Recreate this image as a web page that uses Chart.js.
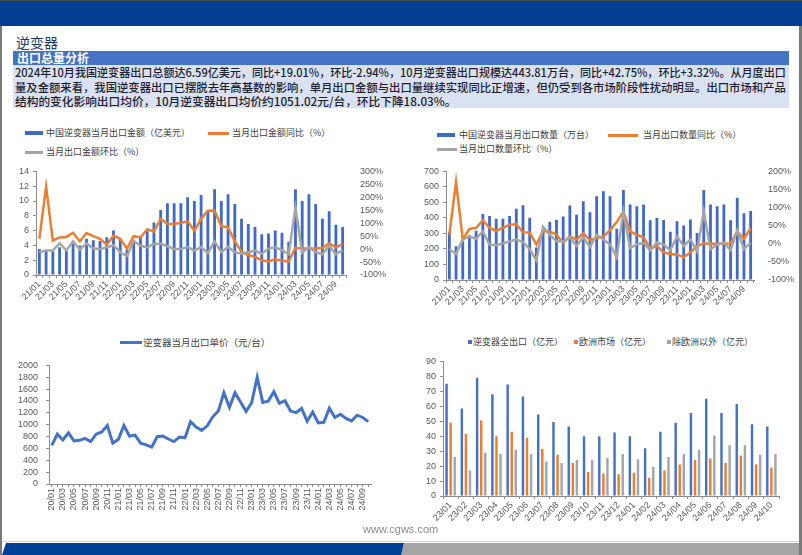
<!DOCTYPE html>
<html>
<head>
<meta charset="utf-8">
<script src="https://cdn.jsdelivr.net/npm/chart.js@4/dist/chart.umd.min.js"></script>
<style>
  body { margin: 0; width: 802px; height: 555px; position: relative; overflow: hidden; background: #fff;
         font-family: 'Noto Sans CJK SC', sans-serif; }
  .abs { position: absolute; }
  canvas { position: absolute; }
  .lg { position: absolute; font-size: 9px; line-height: 12px; color: #404040; white-space: nowrap; }
  .sw { position: absolute; }
  .ln { position: absolute; left: 2px; display: inline-block; white-space: nowrap; font-size: 11.7px;
        line-height: 14px; color: #1e1e2e; font-weight: 500; transform-origin: 0 50%; }
</style>
</head>
<body>
  <!-- frame / header -->
  <div class="abs" style="left:0;top:0;width:802px;height:26px;background:#023f92;border-top:1px solid #4a4a4a;box-sizing:border-box"></div>
  <div class="abs" style="left:0;top:26px;width:2px;height:529px;background:#7a7a7a"></div>
  <div class="abs" style="left:799px;top:26px;width:3px;height:529px;background:#7a7a7a"></div>
  <div class="abs" style="left:16px;top:33px;font-size:14px;line-height:18px;color:#1f3864">逆变器</div>
  <div class="abs" style="left:13px;top:51px;width:776px;height:14px;background:#4472c4;color:#fff;font-size:12px;font-weight:bold;line-height:14px;padding-left:4px;box-sizing:border-box">出口总量分析</div>
  <div class="abs" style="left:13px;top:65px;width:776px;height:43px;background:#d9e1f2">
    <div class="ln" id="ln1" style="top:0px">2024年10月我国逆变器出口总额达6.59亿美元，同比+19.01%，环比-2.94%，10月逆变器出口规模达443.81万台，同比+42.75%，环比+3.32%。从月度出口</div>
    <div class="ln" id="ln2" style="top:14.5px">量及金额来看，我国逆变器出口已摆脱去年高基数的影响，单月出口金额与出口量继续实现同比正增速，但仍受到各市场阶段性扰动明显。出口市场和产品</div>
    <div class="ln" id="ln3" style="top:29px">结构的变化影响出口均价，10月逆变器出口均价约1051.02元/台，环比下降18.03%。</div>
  </div>

  <!-- legend chart 1 -->
  <div class="sw" style="left:25px;top:131px;width:18px;height:4px;background:#4169c8"></div>
  <div class="lg" style="left:46px;top:127px">中国逆变器当月出口金额（亿美元）</div>
  <div class="sw" style="left:208px;top:132px;width:21px;height:3px;background:#ed7d31"></div>
  <div class="lg" style="left:232px;top:127px">当月出口金额同比（%）</div>
  <div class="sw" style="left:25px;top:151px;width:18px;height:3px;background:#a5a5a5"></div>
  <div class="lg" style="left:46px;top:146px">当月出口金额环比（%）</div>

  <!-- legend chart 2 -->
  <div class="sw" style="left:437px;top:133px;width:18px;height:4px;background:#4169c8"></div>
  <div class="lg" style="left:459px;top:129px">中国逆变器当月出口数量（万台）</div>
  <div class="sw" style="left:608px;top:134px;width:30px;height:3px;background:#ed7d31"></div>
  <div class="lg" style="left:643px;top:129px">当月出口数量同比（%）</div>
  <div class="sw" style="left:437px;top:148px;width:20px;height:3px;background:#a5a5a5"></div>
  <div class="lg" style="left:459px;top:143px">当月出口数量环比（%）</div>

  <!-- legend chart 3 -->
  <div class="sw" style="left:120px;top:341px;width:22px;height:3px;background:#4472c4"></div>
  <div class="lg" style="left:143px;top:336px;font-size:9.5px">逆变器当月出口单价（元/台）</div>

  <!-- legend chart 4 -->
  <div class="sw" style="left:468px;top:340px;width:4px;height:4px;background:#4472c4"></div>
  <div class="lg" style="left:473px;top:336px">逆变器全出口（亿元）</div>
  <div class="sw" style="left:574px;top:340px;width:4px;height:4px;background:#ed7d31"></div>
  <div class="lg" style="left:579px;top:336px">欧洲市场（亿元）</div>
  <div class="sw" style="left:667px;top:340px;width:4px;height:4px;background:#a5a5a5"></div>
  <div class="lg" style="left:672px;top:336px">除欧洲以外（亿元）</div>

  <canvas id="c1" width="395" height="145" style="left:0;top:160px"></canvas>
  <canvas id="c2" width="397" height="150" style="left:400px;top:160px"></canvas>
  <canvas id="c3" width="381" height="164" style="left:0;top:352px"></canvas>
  <canvas id="c4" width="389" height="172" style="left:400px;top:352px"></canvas>

  <!-- footer -->
  <div class="abs" style="left:363px;top:523px;font-family:'Liberation Sans';font-size:11px;color:#8a8a8a">www.cgws.com</div>
  <div class="abs" style="left:2px;top:541px;width:797px;height:1px;background:#c9d6ea"></div>
  <div class="abs" style="left:2px;top:543px;width:402px;height:12px;background:#003f98;clip-path:polygon(1% 0,100% 0,99.4% 100%,0 100%)"></div>
  <div class="abs" style="left:401px;top:543px;width:398px;height:12px;background:#a6a6a6;clip-path:polygon(0.8% 0,100% 0,100% 100%,0 100%)"></div>

<script>
  // ── Data ──────────────────────────────────────────────────────
  function monthLabels(y, m, n) {
    const out = [];
    for (let i = 0; i < n; i++) {
      out.push(String(y).padStart(2, '0') + '/' + String(m).padStart(2, '0'));
      m++; if (m > 12) { m = 1; y++; }
    }
    return out;
  }
  const months21 = monthLabels(21, 1, 46);   // 21/01 .. 24/10
  const months20 = monthLabels(20, 1, 58);   // 20/01 .. 24/10
  const months23 = monthLabels(23, 1, 22);   // 23/01 .. 24/10

  // export value, 亿美元
  const amt = [3.5,3.3,3.2,3.75,3.3,4.3,4.0,4.9,4.7,4.6,5.1,6.0,4.9,3.4,4.7,5.3,5.9,7.1,8.8,9.7,9.7,9.7,10.5,10.0,
               10.8,8.7,11.6,10.0,10.9,9.6,7.6,6.9,6.5,5.5,5.6,6.0,5.7,4.5,11.6,10.0,10.9,9.6,7.6,8.6,6.8,6.5];
  const amtYoy = [40,240,33,45,47,63,30,62,50,40,17,52,40,2,50,45,77,67,117,98,97,102,107,70,
                  117,148,148,88,84,30,-10,-23,-30,-43,-48,-39,-45,-48,5,2,2,2,4,23,7,19];
  const amtMom = [-12,-5,-5,22,-5,30,-2,22,2,0,7,15,-12,-27,32,13,7,20,22,11,0,0,8,-6,
                  8,-15,30,-12,9,-12,-18,-12,-6,-18,2,7,-4,-20,160,-14,9,-12,-20,13,-20,-4];

  // export quantity, 万台
  const qty = [310,218,250,288,318,425,412,395,395,412,460,482,402,210,308,375,388,410,480,420,507,437,540,572,
               540,330,580,487,475,487,385,400,387,311,378,352,390,303,580,487,475,487,385,530,430,444];
  const qtyYoy = [25,171,12,41,44,65,44,36,44,53,54,32,31,-2,35,34,25,3,20,12,29,10,16,20,
                  38,60,89,34,25,18,-13,-6,-24,-28,-30,-37,-24,-6,1,0,0,0,1,34,14,43];
  const qtyMom = [-15,-28,12,20,14,34,-2,-4,1,7,12,5,-15,-46,47,25,7,7,18,-6,18,-9,25,12,
                  -2,-37,89,-12,-2,3,-18,3,-2,-18,20,-6,12,-20,89,-15,-2,3,-18,38,-15,3];

  // unit price, 元/台
  const price = [650,840,743,862,726,737,770,715,840,878,986,688,
                 753,986,808,824,688,661,623,797,808,759,715,791,
                 780,1051,960,905,981,1133,1230,1539,1295,1539,1382,1225,
                 1371,1800,1377,1398,1556,1360,1404,1230,1203,1274,1057,1214,
                 1030,1041,1279,1122,1176,1106,1062,1160,1122,1051];

  // export by market, 亿元
  const total     = [75,58.5,79,68,74.5,66.5,54.5,49.5,46.5,40,40,42.5,40,32,43,49,55.5,65,55.5,61.5,48,46.5];
  const europe    = [49,41.5,50.5,40,43,39,31.5,27.5,22,16,15,14.5,15.5,12,17,21,24,25,22,27,21,19];
  const nonEurope = [26,17,29,28,31,28,23,22,24,24,25.5,28,24.5,19.5,26,28,31,40.5,34,34,27.5,28];

  // ── Style ─────────────────────────────────────────────────────
  const BLUE = '#4169c8', BLUE2 = '#4472c4', ORANGE = '#ed7d31', GRAY = '#a5a5a5';
  const AXIS = '#8c8c8c', TICK = '#595959';
  const tickFont = { family: 'Liberation Sans', size: 9 };

  const base = {
    responsive: false, animation: false,
    plugins: { legend: { display: false }, tooltip: { enabled: false } }
  };
  function xAxis(labels, every, rot, h) {
    return {
      grid: { display: true, drawOnChartArea: false, tickLength: 3, color: AXIS },
      border: { color: AXIS },
      ticks: { autoSkip: false, minRotation: rot, maxRotation: rot, padding: 1, color: TICK, font: tickFont,
               callback: (v, i) => (i % every === 0 ? labels[i] : '') },
      afterFit: s => { s.height = h; }
    };
  }
  function yAxis(min, max, step, w, pad) {
    return {
      min, max,
      grid: { display: true, drawOnChartArea: false, tickLength: 3, color: AXIS },
      border: { color: AXIS },
      ticks: { stepSize: step, autoSkip: false, color: TICK, font: tickFont, padding: pad || 4, callback: v => v },
      afterFit: s => { s.width = w; }
    };
  }
  function pctAxis(min, max, w) {
    return {
      position: 'right', min, max,
      grid: { display: false }, border: { display: false },
      ticks: { stepSize: 50, autoSkip: false, color: TICK, font: tickFont, padding: 6, callback: v => v + '%' },
      afterFit: s => { s.width = w; }
    };
  }

  // ── Chart 1: export value ────────────────────────────────────
  new Chart(document.getElementById('c1'), {
    type: 'bar',
    data: {
      labels: months21,
      datasets: [
        { type: 'line', data: amtMom, yAxisID: 'y1', borderColor: GRAY, borderWidth: 2.5, pointRadius: 0, tension: 0, order: 1 },
        { type: 'line', data: amtYoy, yAxisID: 'y1', borderColor: ORANGE, borderWidth: 2.5, pointRadius: 0, tension: 0, order: 2 },
        { type: 'bar', data: amt, yAxisID: 'y', backgroundColor: BLUE, barPercentage: 0.42, categoryPercentage: 1, order: 3 }
      ]
    },
    options: {
      ...base,
      layout: { padding: { top: 8 } },
      scales: { x: xAxis(months21, 2, 45, 30), y: yAxis(0, 14, 2, 36), y1: pctAxis(-100, 300, 49) }
    }
  });

  // ── Chart 2: export quantity ─────────────────────────────────
  new Chart(document.getElementById('c2'), {
    type: 'bar',
    data: {
      labels: months21,
      datasets: [
        { type: 'line', data: qtyMom, yAxisID: 'y1', borderColor: GRAY, borderWidth: 2.5, pointRadius: 0, tension: 0, order: 1 },
        { type: 'line', data: qtyYoy, yAxisID: 'y1', borderColor: ORANGE, borderWidth: 2.5, pointRadius: 0, tension: 0, order: 2 },
        { type: 'bar', data: qty, yAxisID: 'y', backgroundColor: BLUE, barPercentage: 0.42, categoryPercentage: 1, order: 3 }
      ]
    },
    options: {
      ...base,
      layout: { padding: { top: 8 } },
      scales: { x: xAxis(months21, 2, 45, 30), y: yAxis(0, 700, 100, 46), y1: pctAxis(-100, 200, 43) }
    }
  });

  // ── Chart 3: unit price ──────────────────────────────────────
  new Chart(document.getElementById('c3'), {
    type: 'line',
    data: {
      labels: months20,
      datasets: [{ data: price, borderColor: BLUE2, borderWidth: 3, pointRadius: 0, tension: 0 }]
    },
    options: {
      ...base,
      layout: { padding: { top: 9, right: 10 } },
      scales: {
        x: { ...xAxis(months20, 2, 90, 32), offset: true },
        y: yAxis(0, 2000, 200, 49, 8)
      }
    }
  });

  // ── Chart 4: by market ───────────────────────────────────────
  new Chart(document.getElementById('c4'), {
    type: 'bar',
    data: {
      labels: months23,
      datasets: [
        { data: total, backgroundColor: BLUE2, barPercentage: 0.6, categoryPercentage: 0.8 },
        { data: europe, backgroundColor: ORANGE, barPercentage: 0.6, categoryPercentage: 0.8 },
        { data: nonEurope, backgroundColor: GRAY, barPercentage: 0.6, categoryPercentage: 0.8 }
      ]
    },
    options: {
      ...base,
      layout: { padding: { top: 8, right: 10 } },
      scales: { x: xAxis(months23, 1, 45, 28), y: yAxis(0, 90, 10, 43) }
    }
  });

  // ── Fit first paragraph line to the box width ────────────────
  function fit(id, target) {
    const el = document.getElementById(id);
    el.style.transform = 'none';
    el.style.transform = 'scaleX(' + (target / el.scrollWidth) + ')';
  }
  fit('ln1', 771); fit('ln2', 771);
  document.fonts.ready.then(() => { fit('ln1', 771); fit('ln2', 771); });
</script>
</body>
</html>
